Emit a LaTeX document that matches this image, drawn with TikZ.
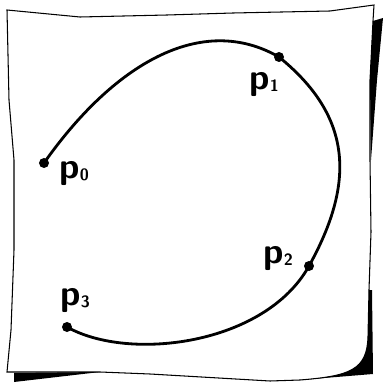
\documentclass[tikz,border=0pt]{standalone}
\usepackage{tikz}
\usetikzlibrary{positioning, calc}
\tikzset{
  paper/.style={draw, line width=0.9pt, fill=white},
  shadow/.style={fill=black},
  dot/.style={circle, fill=black, inner sep=0pt, minimum size=0.3cm},
  ptlabel/.style={font=\fontsize{31}{34}\selectfont\sffamily\bfseries, inner sep=0pt},
  curve/.style={line width=2.4pt, line cap=round}
}
\newcommand{\pt}[1]{p\kern0.5pt\raisebox{-1pt}{\fontsize{14}{14}\selectfont #1}}

\begin{document}
\begin{tikzpicture}[x=0.03cm, y=0.03cm]
        \useasboundingbox (0,0) rectangle (383,382);

        % Sheet of paper
        \draw[paper] (7,372) -- (80,365) -- (167,367) -- (233,369) -- (330,371) -- (374,377)
          -- (373,361) -- (370,302) -- (370,222) -- (371,150) -- (369,92) -- (368,45)
          .. controls (367,12) and (350,6) .. (300,2) -- (270,1) -- (150,8) -- (100,10) -- (7,10)
          -- (11,52) -- (14,132) -- (14,222) -- (9,282) -- cycle;

        % Shadow
        \fill[shadow] (373,361) -- (383,364) -- (377,302) -- (371,222) -- (370,302) -- cycle;
        \fill[shadow] (369,92) -- (372,92) -- (373,8) -- (300,2)
          .. controls (350,6) and (367,12) .. (368,45) -- cycle;
        \fill[shadow] (14,9) -- (100,10) -- (14,0) -- cycle;

        % Points
        \node[dot] (p0) at (44,219) {};
        \node[dot] (p1) at (279,325) {};
        \node[dot] (p2) at (309,116) {};
        \node[dot] (p3) at (67,55) {};

        % Labels
        \node[ptlabel] (l0) at (74,208) {\pt{0}};
        \node[ptlabel] (l1) at (264,297) {\pt{1}};
        \node[ptlabel] (l2) at (278,123) {\pt{2}};
        \node[ptlabel] (l3) at (75,81) {\pt{3}};

        % Curve
        \draw[curve] (p0.center) .. controls (113,317) and (201,370) .. (p1.center)
          .. controls (353,265) and (355,199) .. (p2.center)
          .. controls (265,37) and (129,20) .. (p3.center);
    \end{tikzpicture}
\end{document}
